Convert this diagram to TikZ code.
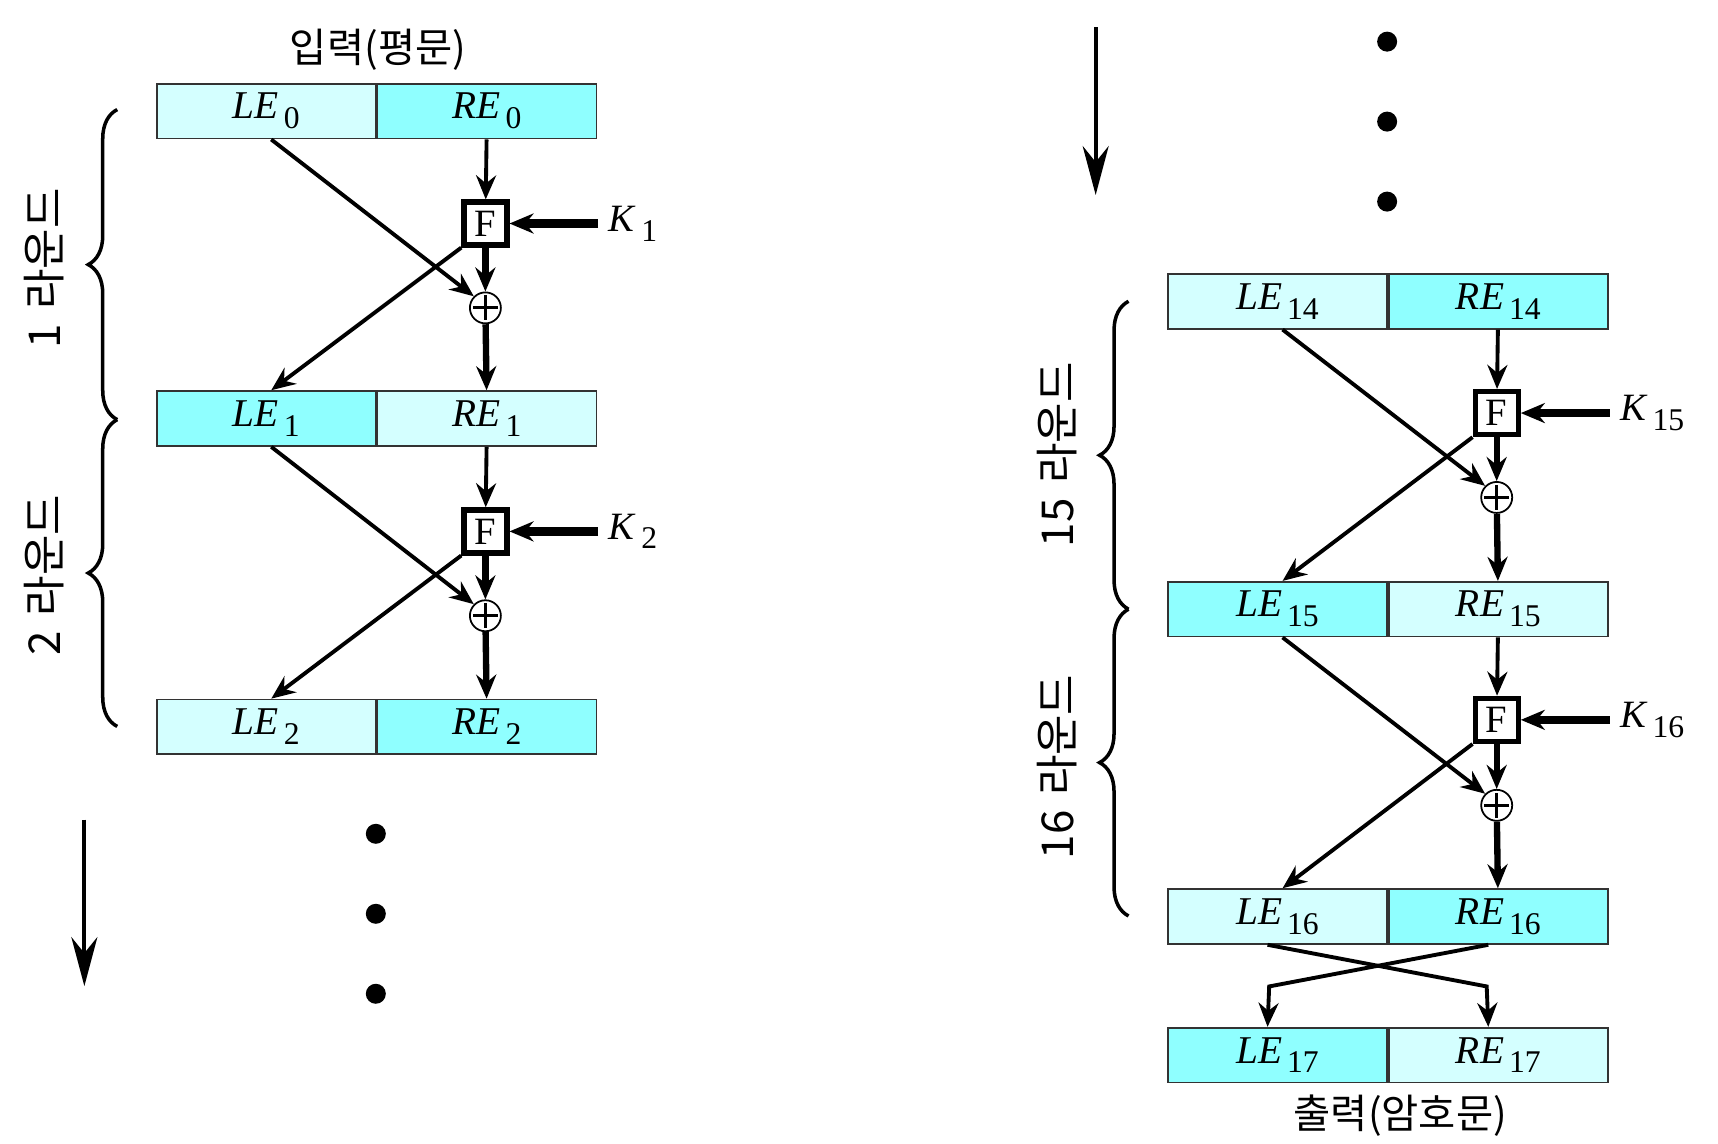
\documentclass[tikz,border=0pt]{standalone}
\usepackage{fontspec}
\setmainfont{Liberation Serif}
\newfontfamily\kr{Noto Sans CJK KR}
\usetikzlibrary{arrows.meta,positioning,decorations.pathreplacing}
\definecolor{pale}{RGB}{212,255,255}
\definecolor{aqua}{RGB}{143,255,255}
\newcommand{\blk}[2]{\textit{#1}\kern1.4pt\raisebox{-0.55ex}{\fontsize{9}{9}\selectfont #2}}

\begin{document}
\begin{tikzpicture}[x=0.10957cm,y=0.10957cm,
    half/.style={draw=black!80,line width=0.5pt,minimum width=2.19cm,minimum height=0.548cm,inner sep=0pt,font=\fontsize{11.2}{12}\selectfont},
    lblk/.style={half,fill=pale},
    dblk/.style={half,fill=aqua},
    fbox/.style={draw,line width=1.5pt,minimum size=0.43cm,inner sep=0pt,fill=white,font=\fontsize{11}{12}\selectfont},
    xor/.style={draw,circle,line width=0.5pt,minimum size=0.31cm,inner sep=0pt,fill=white,
      path picture={\draw[line width=0.9pt] ([yshift=-0.3mm]path picture bounding box.north) -- ([yshift=0.3mm]path picture bounding box.south)
        ([xshift=0.3mm]path picture bounding box.west) -- ([xshift=-0.3mm]path picture bounding box.east);}},
    key/.style={inner sep=1mm,anchor=west,font=\fontsize{11}{12}\selectfont},
    rnd/.style={rotate=90,font=\kr\fontsize{12.5}{14}\selectfont},
    ttl/.style={font=\kr\fontsize{11.5}{13}\selectfont},
    arr/.style={-{Stealth[length=2.4mm,width=2mm,inset=0.8mm]}},
    thin arr/.style={arr,line width=1.1pt},
    bold arr/.style={arr,line width=1.8pt},
    key arr/.style={arr,line width=2.4pt},
    bigarr/.style={line width=1.1pt,-{Stealth[length=4.9mm,width=2.6mm,inset=1.6mm]}},
    brc/.style={decorate,decoration={brace,amplitude=0.29cm},line width=1pt},
    dot/.style={circle,fill,inner sep=0pt,minimum size=0.2cm}]
      \useasboundingbox (0,0) rectangle (156.8,104.4);

      % left column
      \node[ttl] (in) at (34.5,99.9) {입력(평문)};
      \node[lblk] (le0) at (24.3,94.25) {\blk{LE}{0}};
      \node[dblk,right=0pt of le0] (re0) {\blk{RE}{0}};

      \node[fbox] (f1) at (44.3,84.0) {F};
      \node[key] (k1) at (54.6,84.0) {\blk{K}{1}};
      \node[xor] (x1) at (44.3,76.3) {};

      \node[dblk] (le1) at (24.3,66.2) {\blk{LE}{1}};
      \node[lblk,right=0pt of le1] (re1) {\blk{RE}{1}};

      \node[fbox] (f2) at (44.3,55.9) {F};
      \node[key] (k2) at (54.6,55.9) {\blk{K}{2}};
      \node[xor] (x2) at (44.3,48.2) {};

      \node[lblk] (le2) at (24.3,38.05) {\blk{LE}{2}};
      \node[dblk,right=0pt of le2] (re2) {\blk{RE}{2}};

      \draw[thin arr] (re0) -- (f1);
      \draw[bold arr] (f1) -- (x1);
      \draw[bold arr] (x1) -- (re1);
      \draw[key arr] (k1) -- (f1);
      \draw[thin arr] ([xshift=0.5mm]le0.south) -- (x1.north west);
      \draw[thin arr] (f1.south west) -- ([xshift=0.5mm]le1.north);

      \draw[thin arr] (re1) -- (f2);
      \draw[bold arr] (f2) -- (x2);
      \draw[bold arr] (x2) -- (re2);
      \draw[key arr] (k2) -- (f2);
      \draw[thin arr] ([xshift=0.5mm]le1.south) -- (x2.north west);
      \draw[thin arr] (f2.south west) -- ([xshift=0.5mm]le2.north);

      \draw[brc] (10.7,66.1) -- (10.7,94.4);
      \draw[brc] (10.7,38.1) -- (10.7,66.1);
      \node[rnd] (r1) at (4.0,79.9) {1\,\,라운드};
      \node[rnd] (r2) at (4.0,51.9) {2\,\,라운드};

      \coordinate (a1) at (7.7,29.6);
      \coordinate (a2) at (7.7,14.4);
      \draw[bigarr] (a1) -- (a2);
      \node[dot] (d1) at (34.3,28.3) {};
      \node[dot] (d2) at (34.3,21.0) {};
      \node[dot] (d3) at (34.3,13.7) {};

      % right column
      \coordinate (b1) at (100.0,101.9);
      \coordinate (b2) at (100.0,86.6);
      \draw[bigarr] (b1) -- (b2);
      \node[dot] (e1) at (126.6,100.6) {};
      \node[dot] (e2) at (126.6,93.3) {};
      \node[dot] (e3) at (126.6,86.0) {};

      \node[lblk] (le14) at (116.6,76.9) {\blk{LE}{14}};
      \node[dblk,right=0pt of le14] (re14) {\blk{RE}{14}};

      \node[fbox] (f15) at (136.6,66.7) {F};
      \node[key] (k15) at (146.9,66.7) {\blk{K}{15}};
      \node[xor] (x15) at (136.6,59.0) {};

      \node[dblk] (le15) at (116.6,48.8) {\blk{LE}{15}};
      \node[lblk,right=0pt of le15] (re15) {\blk{RE}{15}};

      \node[fbox] (f16) at (136.6,38.7) {F};
      \node[key] (k16) at (146.9,38.7) {\blk{K}{16}};
      \node[xor] (x16) at (136.6,30.9) {};

      \node[lblk] (le16) at (116.6,20.75) {\blk{LE}{16}};
      \node[dblk,right=0pt of le16] (re16) {\blk{RE}{16}};

      \node[dblk] (le17) at (116.6,8.1) {\blk{LE}{17}};
      \node[lblk,right=0pt of le17] (re17) {\blk{RE}{17}};
      \node[ttl] (out) at (127.8,2.6) {출력(암호문)};

      \draw[thin arr] (re14) -- (f15);
      \draw[bold arr] (f15) -- (x15);
      \draw[bold arr] (x15) -- (re15);
      \draw[key arr] (k15) -- (f15);
      \draw[thin arr] ([xshift=0.5mm]le14.south) -- (x15.north west);
      \draw[thin arr] (f15.south west) -- ([xshift=0.5mm]le15.north);

      \draw[thin arr] (re15) -- (f16);
      \draw[bold arr] (f16) -- (x16);
      \draw[bold arr] (x16) -- (re16);
      \draw[key arr] (k16) -- (f16);
      \draw[thin arr] ([xshift=0.5mm]le15.south) -- (x16.north west);
      \draw[thin arr] (f16.south west) -- ([xshift=0.5mm]le16.north);

      \draw[thin arr] ([xshift=-1mm]le16.south) -- ++(20,-3.8) -- ([xshift=-1mm]re17.north);
      \draw[thin arr] ([xshift=-1mm]re16.south) -- ++(-20,-3.8) -- ([xshift=-1mm]le17.north);

      \draw[brc] (103.0,48.8) -- (103.0,76.9);
      \draw[brc] (103.0,20.8) -- (103.0,48.8);
      \node[rnd] (r15) at (96.5,62.9) {15\,\,라운드};
      \node[rnd] (r16) at (96.5,34.4) {16\,\,라운드};
    \end{tikzpicture}
\end{document}
